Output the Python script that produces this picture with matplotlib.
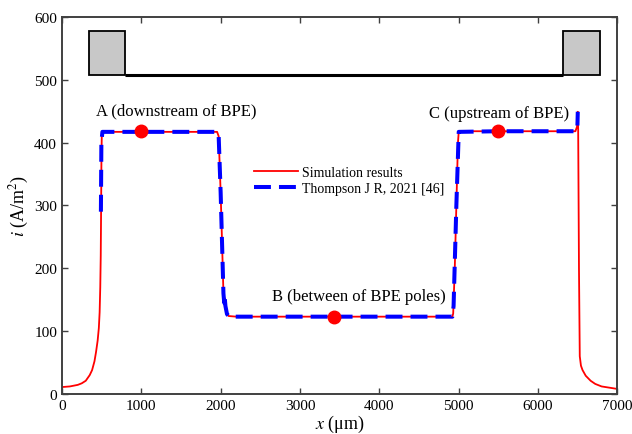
import matplotlib
matplotlib.use("Agg")
import matplotlib.pyplot as plt
from matplotlib.patches import Rectangle

plt.rcParams["font.family"] = ["Liberation Serif", "DejaVu Serif"]
plt.rcParams["mathtext.fontset"] = "stix"

# simulation curve (red)
sim_x = [0, 100, 200, 250, 300, 350, 380, 410, 430, 450, 465, 475, 483, 489,
         494, 498, 502, 515, 1000, 1955, 1975, 2000, 2020, 2035, 2045, 2055,
         2065, 2080, 2100, 2200, 3000, 4000, 4920, 4930, 4950, 4970, 4990,
         5000, 5020, 6000, 6470, 6490, 6500, 6505, 6515, 6525, 6540, 6560,
         6600, 6662, 6720, 6800, 6900, 7000]
sim_y = [11, 12, 14.5, 17, 21, 30, 38, 52, 67, 85, 105, 130, 170, 220,
         300, 380, 410, 417, 417, 417, 410, 320, 230, 160, 142, 152,
         135, 128, 124, 123, 123, 123, 123, 128, 200, 300, 400,
         417, 418, 418, 418, 425, 449, 420, 200, 60, 45, 38,
         29, 21, 16, 12, 10, 8]

# reference data (blue dashed)
ref_x = [491, 497, 510, 1000, 1950, 1975, 2000, 2035, 2045, 2050, 2060, 2080,
         2110, 3000, 4000, 4920, 4935, 4970, 5000, 5500, 6470, 6495, 6500]
ref_y = [290, 400, 417, 417, 417, 410, 320, 160, 145, 155, 140, 127,
         123, 123, 123, 123, 140, 300, 417, 418, 418, 425, 449]

# sampling points A, B, C
pt_x = [1000, 3430, 5500]
pt_y = [418, 123, 418]
pt_labels = ["A (downstream of BPE)", "B (between of BPE poles)", "C (upstream of BPE)"]
label_x = [1436, 3740, 5504]
label_y = [451, 156, 447]

# electrode sketch at the top
elec_left = [336, 797]
elec_right = [6314, 6780]
elec_bottom = 508
elec_top = 578

fig = plt.figure(figsize=(6.32, 4.35), dpi=100)
ax = fig.add_axes([0.098, 0.092, 0.879, 0.867])

ax.plot(sim_x, sim_y, color="#ff0000", lw=1.3, label="Simulation results", zorder=2)
ax.plot(ref_x, ref_y, color="#0000ff", lw=2.9, ls=(0, (4.2, 2.0)),
        label="Thompson J R, 2021 [46]", zorder=3)
ax.plot(pt_x, pt_y, "o", color="#ff0000", ms=9, zorder=4)

for lx, ly, t in zip(label_x, label_y, pt_labels):
    ax.text(lx, ly, t, ha="center", va="center", fontsize=12)

for x0, x1 in [elec_left, elec_right]:
    ax.add_patch(Rectangle((x0, elec_bottom), x1 - x0, elec_top - elec_bottom,
                           facecolor="#c8c8c8", edgecolor="black", lw=1.3, zorder=3))
ax.plot([elec_left[1], elec_right[0]], [elec_bottom, elec_bottom], color="black", lw=2.2,
        solid_capstyle="butt", zorder=3)

ax.set_xlim(0, 7000)
ax.set_ylim(0, 600)
ax.set_xticks(range(0, 7001, 1000))
ax.set_yticks(range(0, 601, 100))
ax.tick_params(direction="in", top=True, right=True, length=4, width=1.0,
               labelsize=11, color="#404040")
for s in ax.spines.values():
    s.set_linewidth(1.4)
    s.set_color("#404040")

ax.set_xlabel(r"$x$ (μm)", fontsize=13, labelpad=1)
ax.set_ylabel(r"$i$ (A/m$^2$)", fontsize=13, labelpad=2)

ax.legend(loc="upper left", bbox_to_anchor=(0.345, 0.605), frameon=False,
          fontsize=10, handlelength=3.2, handletextpad=0.3, labelspacing=0.25,
          borderpad=0, borderaxespad=0)

fig.savefig("out.png", dpi=100)
